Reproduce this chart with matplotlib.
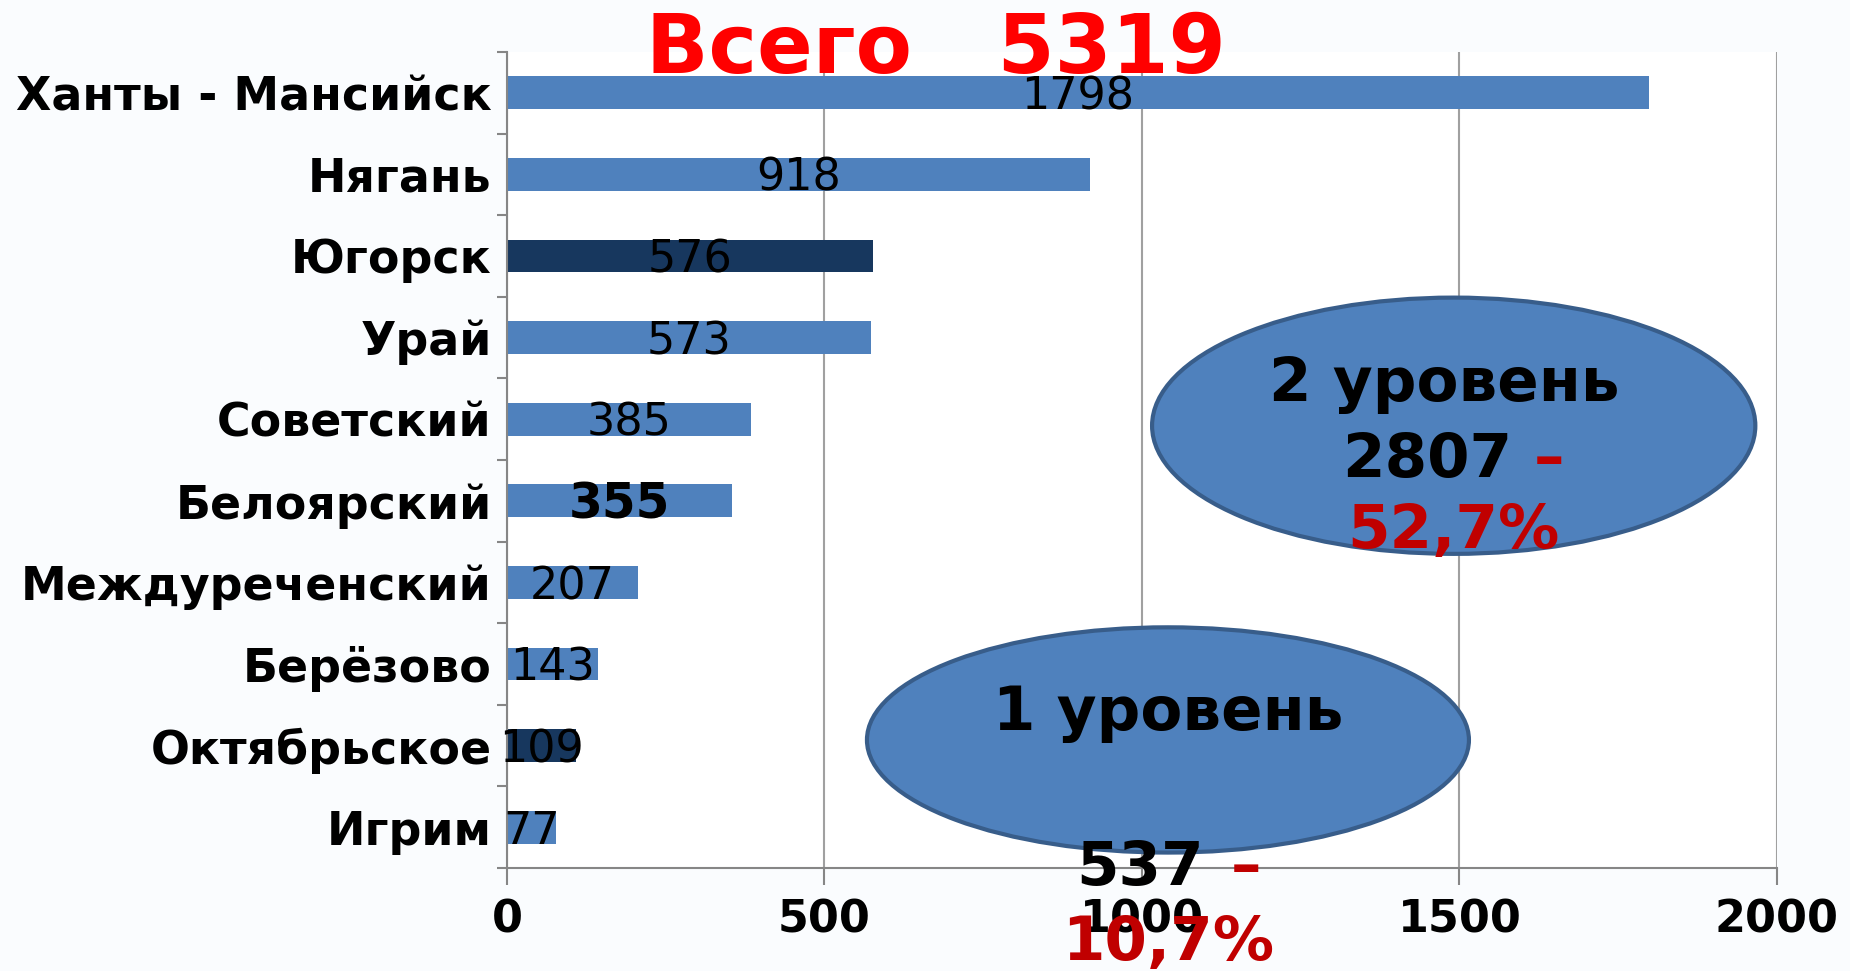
import numpy as np
import matplotlib.pyplot as plt
from matplotlib.patches import Ellipse

cities = ["Ханты - Мансийск", "Нягань", "Югорск", "Урай", "Советский",
          "Белоярский", "Междуреченский", "Берёзово", "Октябрьское", "Игрим"]
counts = [1798, 918, 576, 573, 385, 355, 207, 143, 109, 77]
dark_bars = ["Югорск", "Октябрьское"]
x_ticks = [0, 500, 1000, 1500, 2000]

total = 5319
level2 = (2807, "52,7%")
level1 = (537, "10,7%")

plt.rcParams['font.family'] = ['DejaVu Sans']

fig = plt.figure(figsize=(18.5, 9.71), dpi=100, facecolor='#FAFCFE')
ax = fig.add_axes([0.274, 0.106, 0.6865, 0.8405])
ax.set_facecolor('white')

y = np.arange(len(cities))
colors = ['#17375E' if c in dark_bars else '#4F81BD' for c in cities]
ax.barh(y, counts, height=0.4, color=colors, zorder=2)

ax.set_ylim(len(cities) - 0.5, -0.5)
ax.set_xlim(0, 2000)
ax.set_xticks(x_ticks)
ax.set_xticklabels([str(t) for t in x_ticks], fontsize=32, fontweight='bold')
ax.set_yticks(y)
ax.set_yticklabels(cities, fontsize=33, fontweight='bold')
ax.set_yticks(np.arange(len(cities) + 1) - 0.5, minor=True)
ax.tick_params(axis='y', which='major', length=0, pad=11)
ax.tick_params(axis='y', which='minor', length=7, color='#868686', width=1.5)
ax.tick_params(axis='x', length=12, color='#868686', width=1.5, pad=10)
ax.grid(axis='x', color='#A0A0A0', lw=1.5, zorder=0)
for s in ['top', 'right']:
    ax.spines[s].set_visible(False)
for s in ['left', 'bottom']:
    ax.spines[s].set_color('#868686')
    ax.spines[s].set_linewidth(1.5)

for i, (c, v) in enumerate(zip(cities, counts)):
    if c == "Белоярский":
        ax.text(v / 2, i + 0.04, str(v), ha='center', va='center', fontsize=35,
                fontweight='bold', zorder=3)
    else:
        ax.text(v / 2, i + 0.05, str(v), ha='center', va='center', fontsize=32, zorder=3)

# ellipses with level totals
e2 = Ellipse((1491, 4.08), 950, 3.14, facecolor='#4F81BD', edgecolor='#385D8A',
             lw=3, zorder=4)
ax.add_patch(e2)
ax.text(1476, 3.57, "2 уровень", ha='center', va='center', fontsize=44,
        fontweight='bold', zorder=5)
ax.text(1583, 4.51, str(level2[0]), ha='right', va='center', fontsize=44,
        fontweight='bold', zorder=5)
ax.text(1617, 4.51, "–", ha='left', va='center', fontsize=44,
        fontweight='bold', color='#C00000', zorder=5)
ax.text(1491, 5.38, level2[1], ha='center', va='center', fontsize=44,
        fontweight='bold', color='#C00000', zorder=5)

e1 = Ellipse((1041, 7.93), 948, 2.76, facecolor='#4F81BD', edgecolor='#385D8A',
             lw=3, zorder=4)
ax.add_patch(e1)
ax.text(1041, 7.6, "1 уровень", ha='center', va='center', fontsize=44,
        fontweight='bold', zorder=5)
ax.text(1097, 9.5, str(level1[0]), ha='right', va='center', fontsize=44,
        fontweight='bold', zorder=5, clip_on=False)
ax.text(1140, 9.5, "–", ha='left', va='center', fontsize=44,
        fontweight='bold', color='#C00000', zorder=5, clip_on=False)
ax.text(1041, 10.42, level1[1], ha='center', va='center', fontsize=44,
        fontweight='bold', color='#C00000', zorder=5, clip_on=False)

fig.text(0.506, 0.925, f"Всего   {total}", ha='center', va='baseline',
         fontsize=59, fontweight='bold', color='#FF0000')

fig.savefig('out.png', dpi=100, facecolor=fig.get_facecolor())
